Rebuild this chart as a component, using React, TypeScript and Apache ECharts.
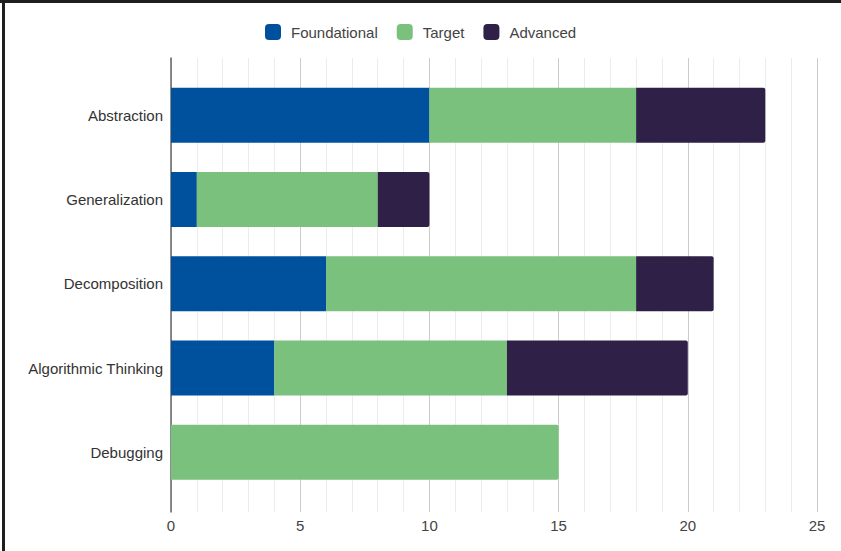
import React, { useEffect, useRef } from "react";
import * as echarts from "echarts";

const categories = ["Abstraction", "Generalization", "Decomposition", "Algorithmic Thinking", "Debugging"];
const foundational = [10, 1, 6, 4, 0];
const target = [8, 7, 12, 9, 15];
const advanced = [5, 2, 3, 7, 0];
const seriesNames = ["Foundational", "Target", "Advanced"];
const colors = ["#00519d", "#7bc17e", "#2e2046"];
const xTicks = { min: 0, max: 25, interval: 5 };

export default function App() {
  const ref = useRef<HTMLDivElement>(null);
  useEffect(() => {
    if (!ref.current) return;
    const chart = echarts.init(ref.current, undefined, { renderer: "svg" });
    const all = [foundational, target, advanced];
    const lastIdx = categories.map((_, i) => {
      let li = -1;
      all.forEach((arr, s) => { if (arr[i] > 0) li = s; });
      return li;
    });
    const series = all.map((arr, s) => ({
      name: seriesNames[s],
      type: "bar",
      stack: "total",
      xAxisIndex: 0,
      yAxisIndex: 0,
      barWidth: 55,
      itemStyle: { color: colors[s] },
      data: arr.map((v, i) => ({
        value: v,
        itemStyle: { borderRadius: lastIdx[i] === s ? [0, 2, 2, 0] : 0 },
      })),
    }));
    const font = "'Liberation Sans', Arial, sans-serif";
    chart.setOption({
      animation: false,
      backgroundColor: "#ffffff",
      textStyle: { fontFamily: font },
      legend: {
        top: 24,
        left: 265,
        padding: 0,
        icon: "roundRect",
        itemWidth: 16,
        itemHeight: 16,
        itemGap: 19,
        data: seriesNames,
        textStyle: { fontSize: 15, color: "#444", fontFamily: font, padding: [0, 0, 0, 5] },
      },
      grid: [
        { left: 171, right: 24, top: 73, height: 421.5 },
        { left: 171, right: 24, top: 58, bottom: 39 },
      ],
      xAxis: [
        { type: "value", gridIndex: 0, min: xTicks.min, max: xTicks.max, interval: xTicks.interval, show: false },
        {
          type: "value",
          gridIndex: 1,
          min: xTicks.min,
          max: xTicks.max,
          interval: xTicks.interval,
          axisLine: { show: false },
          axisTick: { show: false },
          axisLabel: { color: "#444", fontSize: 15, margin: 6, fontFamily: font },
          splitLine: { show: true, lineStyle: { color: "#cccccc", width: 1 } },
          minorTick: { show: false, splitNumber: 5 },
          minorSplitLine: { show: true, lineStyle: { color: "#ececec", width: 1 } },
        },
      ],
      yAxis: [
        {
          type: "category",
          gridIndex: 0,
          data: categories,
          inverse: true,
          axisLine: { show: false },
          axisTick: { show: false },
          axisLabel: { color: "#333", fontSize: 15, margin: 8, fontFamily: font },
        },
        {
          type: "category",
          gridIndex: 1,
          data: categories,
          inverse: true,
          axisLine: { show: true, lineStyle: { color: "#666", width: 1.5 } },
          axisTick: { show: false },
          axisLabel: { show: false },
          splitLine: { show: false },
        },
      ],
      graphic: [
        { type: "rect", shape: { x: 0, y: 0, width: 841, height: 3 }, style: { fill: "#1e1e1e" }, z: 100 },
        { type: "rect", shape: { x: 2, y: 0, width: 3, height: 551 }, style: { fill: "#1e1e1e" }, z: 100 },
      ],
      series,
    });
    return () => chart.dispose();
  }, []);
  return (
    <div
      ref={ref}
      style={{ position: "fixed", left: 0, top: 0, width: 841, height: 551 }}
    />
  );
}
